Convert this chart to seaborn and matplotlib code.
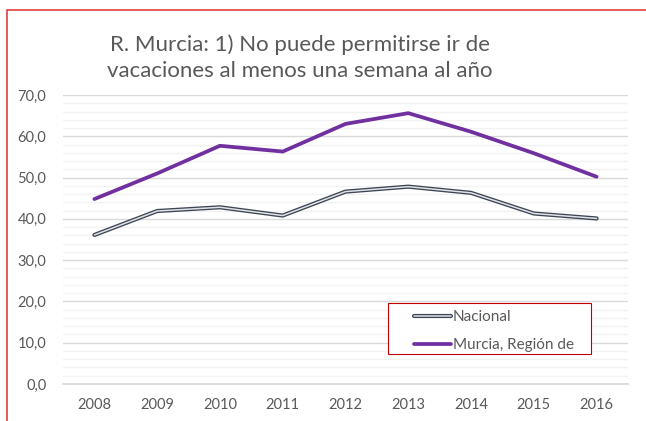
import matplotlib
matplotlib.use("Agg")
import matplotlib.pyplot as plt
import matplotlib.patheffects as pe
from matplotlib.patches import Rectangle
from matplotlib.ticker import MultipleLocator, FuncFormatter
import pandas as pd
import seaborn as sns

years = [2008, 2009, 2010, 2011, 2012, 2013, 2014, 2015, 2016]
nacional = [36.1, 41.9, 42.8, 40.8, 46.6, 47.8, 46.3, 41.3, 40.1]
murcia = [44.8, 51.0, 57.7, 56.3, 63.0, 65.6, 61.1, 55.9, 50.2]
series_names = ["Nacional", "Murcia, Región de"]
title = "R. Murcia: 1) No puede permitirse ir de\nvacaciones al menos una semana al año"

sns.set_theme(style="white")
plt.rcParams["font.family"] = ["Lato", "DejaVu Sans"]

df = pd.DataFrame({"Año": years, series_names[0]: nacional, series_names[1]: murcia})

W, H = 646, 421
fig = plt.figure(figsize=(W / 100, H / 100), dpi=100)
ax = fig.add_axes([63 / W, (H - 384) / H, 565 / W, 289 / H])

sns.lineplot(data=df, x="Año", y=series_names[0], ax=ax, color="#dfe2e7", linewidth=1.1,
             label=series_names[0],
             path_effects=[pe.Stroke(linewidth=3.0, foreground="#3e4553"), pe.Normal()])
sns.lineplot(data=df, x="Año", y=series_names[1], ax=ax, color="#7030a0", linewidth=2.7,
             label=series_names[1])

ax.set_xlim(2007.5, 2016.5)
ax.set_ylim(0, 70)
ax.set_xticks(years)
ax.yaxis.set_major_locator(MultipleLocator(10))
ax.yaxis.set_minor_locator(MultipleLocator(2))
ax.yaxis.set_major_formatter(FuncFormatter(lambda v, p: f"{v:.1f}".replace(".", ",")))
ax.grid(which="major", axis="y", color="#d9d9d9", linewidth=1)
ax.grid(which="minor", axis="y", color="#f2f2f2", linewidth=1)
ax.set_axisbelow(True)
for s in ["top", "right", "left"]:
    ax.spines[s].set_visible(False)
ax.spines["bottom"].set_color("#d9d9d9")
ax.tick_params(axis="both", which="both", length=0, labelsize=10.5, colors="#595959")
ax.tick_params(axis="x", pad=10)
ax.tick_params(axis="y", pad=12)
ax.set_xlabel("")
ax.set_ylabel("")

# legend without its own frame; the red box is drawn separately to match the reference size
leg = ax.legend(loc="upper left", bbox_to_anchor=((407 - 63) / 565, (384 - 303) / 289),
                frameon=False, fontsize=11, handlelength=2.4,
                borderpad=0.45, labelspacing=0.95, handletextpad=0.15, borderaxespad=0)
for t in leg.get_texts():
    t.set_color("#595959")
ax.add_patch(Rectangle((388 / W, 1 - 354 / H), 203 / W, 51 / H, transform=fig.transFigure,
                       facecolor="white", edgecolor="#c00000", linewidth=0.8,
                       zorder=4, clip_on=False))

fig.text(300 / W, 1 - 58 / H, title, ha="center", va="center", fontsize=16,
         color="#595959", linespacing=1.4)

fig.patches.append(Rectangle((7 / W, -0.1), 1.1, 1 - 10 / H + 0.1, transform=fig.transFigure,
                             fill=False, edgecolor="#e04040", linewidth=1.2))

fig.savefig("out.png", dpi=100)
